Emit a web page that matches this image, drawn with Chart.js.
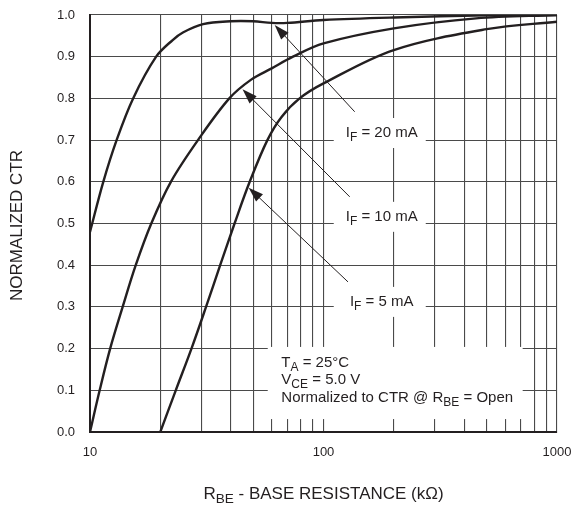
<!DOCTYPE html>
<html>
<head>
<meta charset="utf-8">
<script src="https://cdn.jsdelivr.net/npm/chart.js@4/dist/chart.umd.min.js"></script>
<style>
html,body{margin:0;padding:0;background:#fff;}
#wrap{width:576px;height:506px;}
</style>
</head>
<body>
<div id="wrap"><canvas id="c" width="576" height="506"></canvas></div>
<script>
// ---- data ----
const seriesNames = ['I_{F} = 20 mA', 'I_{F} = 10 mA', 'I_{F} = 5 mA'];
const rbe20 = [10, 11.4, 13, 15.3, 19.2, 22.6, 25, 30.5, 40, 50, 60, 70, 100, 200, 500, 1000];
const ctr20 = [0.48, 0.60, 0.70, 0.80, 0.90, 0.94, 0.958, 0.978, 0.985, 0.985, 0.981, 0.981, 0.988, 0.994, 0.999, 1.0];
const rbe10 = [10, 11, 12.2, 13.8, 15.7, 18.3, 22.2, 29, 39.5, 49, 60, 74, 100, 200, 450, 1000];
const ctr10 = [0.0, 0.10, 0.20, 0.30, 0.40, 0.50, 0.60, 0.70, 0.80, 0.845, 0.872, 0.90, 0.932, 0.968, 0.992, 1.0];
const rbe5 = [20, 23.3, 27.2, 31.4, 36.1, 41.6, 48.3, 57.5, 66, 79, 100, 200, 500, 1000];
const ctr5 = [0.0, 0.10, 0.20, 0.30, 0.40, 0.50, 0.60, 0.70, 0.755, 0.80, 0.836, 0.916, 0.966, 0.984];
const xGridValues = [10,20,30,40,50,60,70,80,90,100,200,300,400,500,600,700,800,900,1000];
const xTickLabels = [10, 100, 1000];
const yTicks = [0,0.1,0.2,0.3,0.4,0.5,0.6,0.7,0.8,0.9,1.0];

// annotation anchors in data units
const arrows = [
  {from:[136, 0.768], to:[61.8, 0.976]},
  {from:[129.5, 0.564], to:[45, 0.822]},
  {from:[127.3, 0.360], to:[47.8, 0.586]}
];
const labels = [
  {x:177.6, y:0.717, text:seriesNames[0]},
  {x:177.6, y:0.516, text:seriesNames[1]},
  {x:177.6, y:0.312, text:seriesNames[2]}
];
const noteBox = {x0:57.7, x1:712.8, y0:0.204, y1:0.031};
const noteLines = [
  {x:66, y:0.165, text:'T_{A} = 25°C'},
  {x:66, y:0.124, text:'V_{CE} = 5.0 V'},
  {x:66, y:0.081, text:'Normalized to CTR @ R_{BE} = Open'}
];
const xTitle = 'R_{BE} - BASE RESISTANCE (kΩ)';
const yTitle = 'NORMALIZED CTR';

const FONT = '"Liberation Sans", Arial, Helvetica, sans-serif';
const INK = '#231f20';

function parseRich(s){
  const parts=[]; const re=/_\{([^}]*)\}/g; let last=0, m;
  while((m=re.exec(s))){ if(m.index>last) parts.push({t:s.slice(last,m.index)}); parts.push({t:m[1],sub:true}); last=re.lastIndex; }
  if(last<s.length) parts.push({t:s.slice(last)});
  return parts;
}
function drawRich(ctx, s, x, y, size, align){
  const parts=parseRich(s);
  let w=0;
  parts.forEach(p=>{ctx.font=(p.sub?size*0.8:size)+'px '+FONT; p.w=ctx.measureText(p.t).width; w+=p.w;});
  let cx = align==='center'? x-w/2 : (align==='right'? x-w : x);
  ctx.textAlign='left'; ctx.textBaseline='middle'; ctx.fillStyle=INK;
  parts.forEach(p=>{ctx.font=(p.sub?size*0.8:size)+'px '+FONT; ctx.fillText(p.t, cx, p.sub? y+size*0.3 : y); cx+=p.w;});
  return w;
}

const toXY = (xs, ys) => xs.map((v,i)=>({x:v, y:ys[i]}));

const annotPlugin = {
  id:'annot',
  beforeDatasetsDraw(chart){
    const ctx=chart.ctx, xs=chart.scales.x, ys=chart.scales.y;
    ctx.save();
    ctx.fillStyle='#fff';
    labels.forEach(l=>{
      const px=xs.getPixelForValue(l.x), py=ys.getPixelForValue(l.y);
      ctx.fillRect(px-48, py-15, 92, 30);
    });
    const bx0=xs.getPixelForValue(noteBox.x0), bx1=xs.getPixelForValue(noteBox.x1);
    const by0=ys.getPixelForValue(noteBox.y0), by1=ys.getPixelForValue(noteBox.y1);
    ctx.fillRect(bx0, by0, bx1-bx0, by1-by0);
    ctx.restore();
  },
  afterDatasetsDraw(chart){
    const ctx=chart.ctx, xs=chart.scales.x, ys=chart.scales.y;
    ctx.save();
    arrows.forEach(a=>{
      const x1=xs.getPixelForValue(a.from[0]), y1=ys.getPixelForValue(a.from[1]);
      const x2=xs.getPixelForValue(a.to[0]), y2=ys.getPixelForValue(a.to[1]);
      const ang=Math.atan2(y2-y1, x2-x1), L=15, H=5;
      ctx.strokeStyle=INK; ctx.lineWidth=1;
      ctx.beginPath(); ctx.moveTo(x1,y1); ctx.lineTo(x2-Math.cos(ang)*L*0.8, y2-Math.sin(ang)*L*0.8); ctx.stroke();
      ctx.fillStyle=INK;
      ctx.beginPath();
      ctx.moveTo(x2,y2);
      ctx.lineTo(x2-Math.cos(ang)*L+Math.sin(ang)*H, y2-Math.sin(ang)*L-Math.cos(ang)*H);
      ctx.lineTo(x2-Math.cos(ang)*L-Math.sin(ang)*H, y2-Math.sin(ang)*L+Math.cos(ang)*H);
      ctx.closePath(); ctx.fill();
    });
    labels.forEach(l=>{
      drawRich(ctx, l.text, xs.getPixelForValue(l.x), ys.getPixelForValue(l.y), 15, 'center');
    });
    noteLines.forEach(n=>{
      drawRich(ctx, n.text, xs.getPixelForValue(n.x), ys.getPixelForValue(n.y), 15, 'left');
    });
    const ca=chart.chartArea;
    drawRich(ctx, xTitle, (ca.left+ca.right)/2, 494, 17, 'center');
    ctx.translate(17, (ca.top+ca.bottom)/2 + 2);
    ctx.rotate(-Math.PI/2);
    drawRich(ctx, yTitle, 0, 0, 17, 'center');
    ctx.restore();
  }
};

const lineStyle = {borderColor:INK, borderWidth:2.4, pointRadius:0, fill:false, tension:0.35};

new Chart(document.getElementById('c'), {
  type:'line',
  data:{
    datasets:[
      Object.assign({label:seriesNames[0], data:toXY(rbe20, ctr20)}, lineStyle),
      Object.assign({label:seriesNames[1], data:toXY(rbe10, ctr10)}, lineStyle),
      Object.assign({label:seriesNames[2], data:toXY(rbe5, ctr5)}, lineStyle)
    ]
  },
  options:{
    responsive:false, animation:false, devicePixelRatio:1,
    layout:{padding:{left:0, right:19, top:15, bottom:0}},
    plugins:{legend:{display:false}, tooltip:{enabled:false}},
    elements:{line:{capBezierPoints:true}},
    scales:{
      x:{
        type:'logarithmic', min:10, max:1000,
        afterBuildTicks(s){ s.ticks = xGridValues.map(v=>({value:v})); },
        afterFit(s){ s.height = 74; s.paddingLeft = 0; s.paddingRight = 0; },
        grid:{color:'#4a4a4a', lineWidth:1.1, drawTicks:false},
        border:{color:INK, width:2},
        ticks:{autoSkip:false, maxRotation:0, padding:13, color:INK, font:{family:FONT, size:13},
          callback:(v)=> xTickLabels.includes(v) ? String(v) : ''}
      },
      y:{
        type:'linear', min:0, max:1,
        afterBuildTicks(s){ s.ticks = yTicks.map(v=>({value:v})); },
        afterFit(s){ s.width = 90; s.paddingTop = 0; s.paddingBottom = 0; },
        grid:{color:'#4a4a4a', lineWidth:1.1, drawTicks:false},
        border:{color:INK, width:2},
        ticks:{padding:15, color:INK, font:{family:FONT, size:13}, callback:(v)=>Number(v).toFixed(1)}
      }
    }
  },
  plugins:[annotPlugin]
});
</script>
</body>
</html>
